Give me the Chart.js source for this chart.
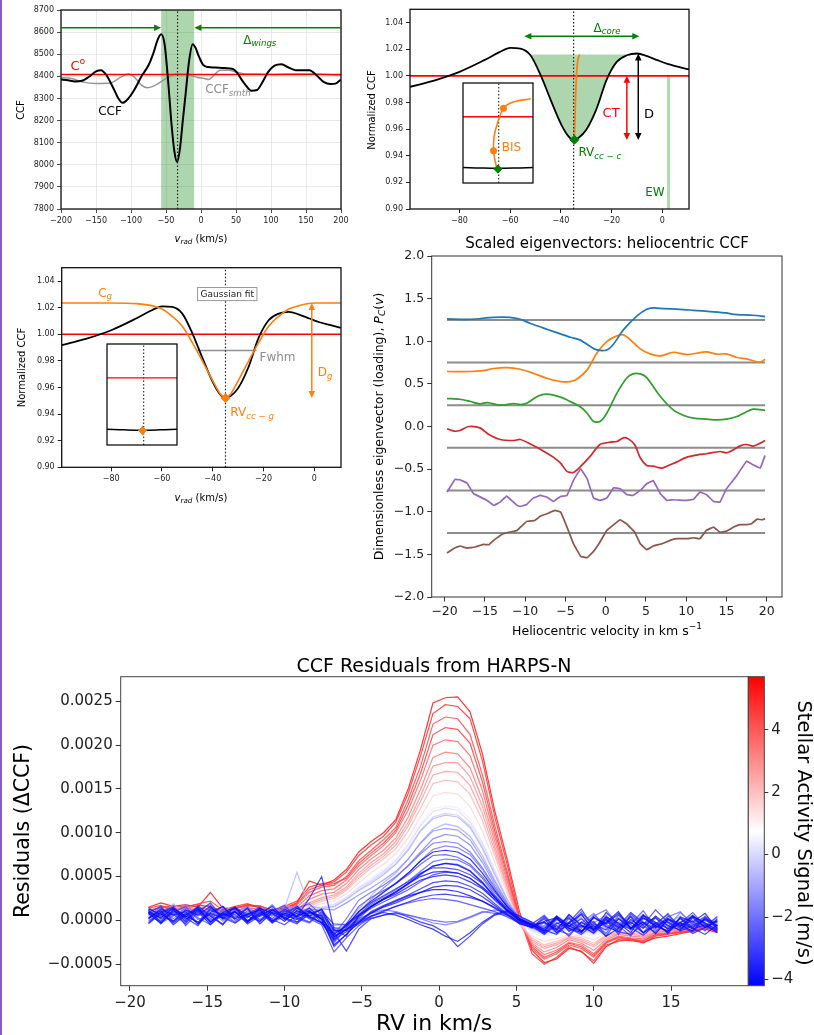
<!DOCTYPE html>
<html><head><meta charset="utf-8">
<script src="https://cdn.jsdelivr.net/npm/chart.js@4.4.1/dist/chart.umd.min.js"></script>
<style>
html,body{margin:0;padding:0;background:#fff;}
body{width:814px;height:1035px;position:relative;overflow:hidden;}
canvas{position:absolute;}
#pl{position:absolute;left:0;top:0;width:2px;height:1035px;background:#8e5bc4;}
</style></head><body>
<div id="pl"></div>
<script>
// ---------------- DATA ----------------
// Panel 1: raw CCF
const P1_XTICKS=[-200,-150,-100,-50,0,50,100,150,200];
const P1_YTICKS=[7800,7900,8000,8100,8200,8300,8400,8500,8600,8700];
const CCF_V=[-200,-190,-180,-170,-160,-150,-143,-135,-125,-118,-112,-105,-95,-85,-75,-68,-62,-57,-52,-47,-42,-38,-34,-30,-26,-22,-17,-12,-8,-3,3,10,20,30,40,46,52,58,65,72,80,88,96,105,115,125,135,145,155,165,175,185,192,200];
const CCF_Y=[8386,8382,8377,8380,8398,8422,8428,8405,8345,8300,8280,8295,8340,8400,8450,8505,8565,8590,8545,8380,8180,8060,8012,8075,8200,8320,8470,8545,8530,8490,8452,8442,8440,8438,8436,8433,8415,8385,8355,8335,8338,8375,8420,8448,8455,8440,8428,8428,8428,8405,8375,8365,8367,8386];
const SMTH_V=[-200,-185,-170,-150,-130,-115,-104,-95,-85,-77,-65,-50,-35,-20,-5,5,11,20,27,40,50,60,80,100,130,160,200];
const SMTH_Y=[8395,8390,8375,8368,8370,8395,8410,8395,8360,8348,8360,8390,8410,8408,8395,8390,8386,8410,8428,8428,8420,8412,8410,8408,8410,8410,8405];
const C0_LEVEL=8408, RV1=-33.5, WINGS=[-57,-9.5], WING_ARROW_Y=8620;

// Panels 2 & 3: normalized CCF
const P23_XTICKS=[-80,-60,-40,-20,0];
const P23_YTICKS=[0.90,0.92,0.94,0.96,0.98,1.00,1.02,1.04];
const NCCF_V=[-99.5,-90,-80,-70,-64,-60,-56,-52,-48,-44,-40,-37,-35,-33,-30,-26,-22,-18,-14,-10,-6,-2,2,6,10.5];
const NCCF_Y=[0.9918,0.9965,1.003,1.012,1.018,1.021,1.0205,1.0155,1.0005,0.9818,0.964,0.9545,0.9518,0.9535,0.9595,0.975,0.997,1.0105,1.0155,1.0168,1.0148,1.0118,1.009,1.007,1.0048];
const CORE_LEVEL=1.016, CORE_RANGE=[-52,-10], RV2=-35;
const BIS_V=[-34.7,-34.5,-34.3,-34.0,-33.7,-33.3,-32.6];
const BIS_Y=[0.952,0.965,0.98,0.995,1.005,1.012,1.016];
const EW_V=[1.8,3.1], EW_TOP=1.0;
const GAUSS_V=[-99.5,-80,-70,-64,-60,-56,-52,-48,-44,-40,-37,-35,-33,-30,-26,-22,-18,-14,-10,-6,0,10.5];
const GAUSS_Y=[1.0235,1.0235,1.023,1.0215,1.019,1.0135,1.006,0.9935,0.9795,0.965,0.955,0.952,0.955,0.965,0.9795,0.9935,1.006,1.0135,1.019,1.0215,1.0235,1.0235];
const FWHM_V=[-46.3,-22.8], FWHM_LEVEL=0.9878;
// insets (unitless box coordinates 0..1)
const IN2_BIS_X=[0.489,0.462,0.436,0.444,0.489,0.578,0.667,0.756,0.969];
const IN2_BIS_Y=[0.132,0.211,0.322,0.464,0.590,0.748,0.795,0.817,0.842];
const IN_BLACK_X=[0,0.25,0.5,0.75,1];
const IN_BLACK_Y=[0.156,0.150,0.147,0.150,0.156];

// Panel 4: scaled eigenvectors
const P4_XTICKS=[-20,-15,-10,-5,0,5,10,15,20];
const P4_YTICKS=[-2,-1.5,-1,-0.5,0,0.5,1,1.5,2];
const EV_OFFSETS=[1.25,0.75,0.25,-0.25,-0.75,-1.25];
const EV_BLUE_X=[-19.7,-16.8,-13.9,-11.9,-10.6,-9.4,-7.3,-5.6,-4.4,-3.2,-1.9,-1.1,0.14,0.97,2.2,3.9,5.1,5.9,7.2,9.2,10.9,13.0,15.0,15.9,18.3,19.8];
const EV_BLUE_Y=[1.262,1.258,1.281,1.281,1.258,1.211,1.141,1.086,1.047,1.016,0.938,0.898,0.898,0.965,1.133,1.297,1.375,1.391,1.383,1.375,1.363,1.348,1.332,1.316,1.305,1.289];
const EV_ORANGE_X=[-19.7,-16.8,-15.2,-13.9,-12.3,-10.6,-9.0,-7.3,-5.6,-4.4,-3.6,-2.3,-1.1,0.14,1.4,2.2,3.0,4.3,5.5,6.8,8.4,10.1,12.5,13.8,15.0,16.3,17.5,18.8,19.4,19.8];
const EV_ORANGE_Y=[0.645,0.645,0.656,0.680,0.691,0.672,0.625,0.566,0.527,0.527,0.555,0.664,0.859,0.996,1.063,1.074,1.023,0.910,0.852,0.828,0.871,0.844,0.875,0.848,0.852,0.809,0.793,0.758,0.762,0.789];
const EV_GREEN_X=[-19.7,-18.1,-16.8,-15.6,-14.7,-13.1,-11.4,-10.6,-9.8,-8.5,-7.3,-5.6,-4.4,-3.2,-2.3,-1.5,-0.7,0.14,1.4,2.6,3.4,4.3,5.1,6.8,8.4,9.7,10.9,12.5,13.8,15.0,16.3,18.3,19.8];
const EV_GREEN_Y=[0.328,0.320,0.293,0.266,0.281,0.250,0.270,0.258,0.273,0.352,0.379,0.344,0.293,0.234,0.156,0.059,0.059,0.156,0.391,0.566,0.617,0.617,0.574,0.352,0.195,0.129,0.098,0.086,0.078,0.086,0.117,0.203,0.188];
const EV_RED_X=[-19.7,-18.8,-18.1,-17.0,-15.6,-14.5,-13.1,-11.4,-10.6,-9.4,-7.7,-6.5,-5.6,-4.8,-4.0,-3.2,-1.9,-0.7,0.6,1.4,2.2,2.8,3.6,4.3,5.1,5.9,7.0,8.0,8.8,10.1,11.7,12.5,14.2,15.0,15.9,16.7,17.5,18.3,19.2,19.8];
const EV_RED_Y=[-0.027,-0.055,-0.047,0.0,-0.016,-0.094,-0.152,-0.164,-0.152,-0.203,-0.289,-0.359,-0.430,-0.527,-0.539,-0.477,-0.348,-0.211,-0.184,-0.176,-0.133,-0.145,-0.211,-0.367,-0.457,-0.465,-0.488,-0.449,-0.418,-0.359,-0.328,-0.320,-0.293,-0.309,-0.273,-0.227,-0.211,-0.230,-0.195,-0.164];
const EV_PURPLE_X=[-19.7,-18.7,-18.1,-17.2,-16.4,-14.7,-13.9,-13.1,-12.3,-11.0,-10.6,-9.8,-9.0,-8.1,-7.3,-6.5,-5.6,-4.8,-4.0,-3.1,-2.3,-1.5,-0.7,0.14,1.0,1.8,2.6,3.4,4.3,5.1,5.9,6.8,7.6,8.4,10.1,10.9,11.7,12.5,13.4,14.2,15.0,16.3,17.5,18.3,19.2,19.8];
const EV_PURPLE_Y=[-0.770,-0.621,-0.625,-0.664,-0.789,-0.867,-0.926,-0.887,-0.816,-0.926,-0.938,-0.914,-0.840,-0.809,-0.828,-0.879,-0.820,-0.809,-0.633,-0.496,-0.613,-0.840,-0.867,-0.840,-0.719,-0.730,-0.797,-0.809,-0.750,-0.672,-0.633,-0.789,-0.867,-0.859,-0.867,-0.855,-0.770,-0.797,-0.879,-0.887,-0.730,-0.574,-0.406,-0.449,-0.488,-0.340];
const EV_BROWN_X=[-19.7,-18.7,-18.1,-17.2,-16.2,-15.2,-14.5,-13.9,-12.9,-11.9,-11.0,-9.8,-8.8,-8.1,-7.3,-6.3,-5.6,-4.8,-4.0,-3.1,-2.3,-1.5,-0.7,0.14,1.4,1.8,2.6,3.6,4.3,5.1,5.9,7.0,8.0,8.8,10.1,10.9,11.7,12.5,13.4,14.2,15.0,15.9,16.7,17.5,18.1,18.8,19.4,19.8];
const EV_BROWN_Y=[-1.484,-1.422,-1.402,-1.426,-1.414,-1.383,-1.387,-1.336,-1.266,-1.238,-1.219,-1.113,-1.102,-1.051,-1.023,-0.984,-1.004,-1.180,-1.375,-1.523,-1.539,-1.465,-1.355,-1.219,-1.121,-1.094,-1.141,-1.238,-1.375,-1.445,-1.402,-1.375,-1.336,-1.316,-1.316,-1.305,-1.316,-1.219,-1.180,-1.242,-1.227,-1.180,-1.152,-1.152,-1.141,-1.086,-1.094,-1.082];

// Bottom: CCF residuals (values in units of 1e-4)
const RES_UNIT=1e-4;
const RES_XTICKS=[-20,-15,-10,-5,0,5,10,15];
const RES_YTICKS=[-0.0005,0,0.0005,0.001,0.0015,0.002,0.0025];
const CBAR_TICKS=[-4,-2,0,2,4];
const RV_GRID=[-18.8,-18.0,-17.2,-16.4,-15.6,-14.8,-14.0,-13.2,-12.4,-11.6,-10.8,-10.0,-9.2,-8.4,-7.6,-6.8,-6.0,-5.2,-4.4,-3.6,-2.8,-2.0,-1.2,-0.4,0.4,1.2,2.0,2.8,3.6,4.4,5.2,6.0,6.8,7.6,8.4,9.2,10.0,10.8,11.6,12.4,13.2,14.0,14.8,15.6,16.4,17.2,18.0];
const ACTIVITY=[5.6,5.0,4.5,4.0,3.5,3.0,2.3,1.6,0.8,0.0,-0.8,-1.5,-2.2,-2.8,-3.3,-3.7,-4.0,-3.0,-3.6,-2.5,-4.1,-3.9,-1.0,-1.8,-2.0,-2.4,-2.6,-3.0,-3.4,-3.8,-4.1,-3.5,-2.0,-3.9,0.4,2.8,4.8,-0.3];
const RES_01=[1.5,2.0,1.6,1.8,1.5,3.2,1.4,1.3,1.8,1.6,1.2,1.4,2.0,4.5,4.0,4.6,5.8,7.8,9.0,10.0,11.5,15.0,19.5,24.8,25.4,25.5,23.8,19.0,12.5,7.0,1.0,-3.4,-4.8,-4.4,-3.2,-3.5,-4.9,-3.0,-2.2,-2.3,-2.5,-2.0,-1.8,-1.5,-1.2,-1.0,-1.4];
const RES_02=[1.2,1.4,1.7,1.5,1.9,2.2,1.2,1.6,1.9,1.4,1.0,1.6,2.2,3.8,4.2,4.4,5.5,7.4,8.6,9.6,11.2,14.5,18.8,23.6,24.6,24.4,23.0,18.2,11.8,6.4,0.4,-3.8,-5.0,-4.2,-3.0,-3.6,-4.6,-2.8,-2.4,-2.1,-2.6,-1.8,-1.6,-1.3,-1.3,-0.9,-1.2];
const RES_03=[0.9,1.6,1.4,1.3,1.7,1.6,1.0,1.4,1.6,1.7,1.1,1.2,1.8,3.2,3.8,4.0,5.0,6.8,8.0,9.2,10.6,13.8,17.6,22.4,23.2,23.0,21.2,16.6,10.8,5.6,0.2,-3.2,-4.4,-3.8,-2.8,-3.2,-4.2,-2.6,-2.0,-2.2,-2.4,-1.7,-1.5,-1.4,-1.1,-0.8,-1.0];
const RES_04=[1.0,1.2,1.5,1.1,1.4,1.3,0.9,1.1,1.4,1.3,0.8,1.0,1.5,2.8,3.4,3.6,4.6,6.2,7.4,8.5,10.0,12.6,16.0,20.0,20.6,20.4,18.8,14.8,9.6,4.8,0.0,-2.8,-3.9,-3.4,-2.5,-2.8,-3.8,-2.4,-1.8,-2.0,-2.1,-1.5,-1.4,-1.2,-1.0,-0.8,-1.1];
const RES_05=[0.8,1.3,1.1,1.4,1.2,1.1,0.7,1.2,1.2,1.0,0.6,0.9,1.2,2.4,3.0,3.2,4.2,5.8,7.0,8.0,9.4,11.8,15.0,18.6,19.2,19.0,17.4,13.8,9.0,4.4,-0.2,-2.6,-3.6,-3.1,-2.2,-2.6,-3.4,-2.2,-1.6,-1.8,-1.9,-1.4,-1.2,-1.1,-0.9,-0.6,-1.0];
const RES_06=[0.6,1.0,1.2,0.9,1.1,1.0,0.6,0.9,1.1,0.9,0.5,0.8,1.0,2.0,2.6,2.9,3.8,5.4,6.6,7.6,9.0,11.2,14.2,17.6,18.0,18.0,16.4,13.0,8.4,4.0,-0.4,-2.4,-3.2,-2.8,-2.0,-2.4,-3.0,-2.0,-1.5,-1.6,-1.8,-1.3,-1.1,-1.0,-0.8,-0.6,-0.9];
const RES_07=[0.7,0.9,0.8,1.0,0.9,0.8,0.5,0.8,0.9,0.8,0.5,0.7,0.9,1.6,2.2,2.5,3.4,4.8,6.0,7.0,8.2,10.2,12.8,15.6,16.0,15.8,14.4,11.4,7.4,3.4,-0.4,-2.0,-2.8,-2.4,-1.8,-2.0,-2.6,-1.7,-1.3,-1.4,-1.5,-1.1,-1.0,-0.9,-0.7,-0.5,-0.8];
const RES_08=[0.5,0.8,0.7,0.9,0.8,0.7,0.4,0.7,0.8,0.7,0.6,0.6,0.8,1.4,1.9,2.2,3.0,4.3,5.4,6.4,7.6,9.4,11.8,14.2,14.6,14.4,13.0,10.2,6.6,3.0,-0.4,-1.8,-2.4,-2.1,-1.6,-1.8,-2.2,-1.5,-1.2,-1.2,-1.3,-1.0,-0.9,-0.8,-0.6,-0.5,-0.7];
const RES_09=[0.6,0.7,0.8,0.7,0.9,0.6,0.5,0.7,0.6,0.8,0.5,0.6,0.9,1.2,1.7,2.0,2.8,4.0,5.0,6.0,7.2,9.0,11.2,13.2,13.6,13.4,12.0,9.4,6.0,2.6,-0.2,-1.6,-2.0,-1.8,-1.4,-1.5,-1.9,-1.3,-1.0,-1.1,-1.2,-0.9,-0.8,-0.7,-0.6,-0.4,-0.6];
const RES_10=[0.7,0.6,0.9,0.8,0.6,0.8,0.6,0.5,0.7,0.9,0.6,0.8,1.1,1.3,1.5,1.8,2.6,3.7,4.6,5.6,6.8,8.6,10.8,12.4,12.8,12.6,11.2,8.8,5.6,2.4,0.0,-1.2,-1.6,-1.4,-1.0,-1.2,-1.6,-1.0,-0.7,-0.8,-0.9,-0.6,-0.5,-0.5,-0.3,-0.2,-0.4];
const RES_11=[0.8,0.5,1.0,0.7,0.8,0.6,0.9,0.6,0.8,1.0,0.7,1.4,5.5,1.6,1.4,1.6,2.4,3.4,4.2,5.2,6.4,8.0,10.2,11.6,12.0,11.8,10.6,8.2,5.2,2.4,0.2,-0.8,-1.2,-1.0,-0.8,-1.0,-1.2,-0.7,-0.5,-0.6,-0.8,-0.5,-0.4,-0.3,-0.2,-0.1,-0.3];
const RES_12=[0.9,0.7,0.6,1.1,0.8,0.5,0.7,0.9,0.6,0.7,0.9,1.0,1.2,1.1,1.3,1.2,2.0,2.9,3.7,4.6,5.6,7.0,8.8,10.2,10.5,10.3,9.2,7.0,4.4,2.0,0.2,-0.6,-0.8,-0.6,-0.5,-0.7,-0.9,-0.4,-0.2,-0.3,-0.5,-0.3,-0.2,-0.1,0.0,0.1,-0.2];
const RES_13=[0.6,1.5,0.2,1.2,-0.3,1.6,0.4,-0.2,1.1,0.5,1.8,0.2,0.9,1.4,0.3,-1.6,0.2,2.3,3.2,4.0,5.0,6.2,7.6,8.8,9.0,8.8,7.8,6.0,3.8,1.8,0.4,-0.4,0.6,-0.9,0.3,-1.4,0.5,1.2,-0.6,0.9,-0.2,-1.1,0.4,1.0,-0.5,0.3,-0.8];
const RES_14=[1.2,-0.2,0.9,1.6,0.1,0.7,-0.5,1.3,0.4,1.0,-0.1,0.8,1.5,0.2,0.6,-2.0,-0.4,1.6,2.6,3.4,4.2,5.2,6.4,7.4,7.5,7.2,6.4,5.0,3.2,1.6,0.2,-0.6,-1.2,0.2,-0.7,0.8,-0.3,-1.5,0.6,-0.4,1.1,-0.8,0.2,-0.3,0.9,-0.6,0.4];
const RES_15=[-0.4,0.8,1.4,-0.6,0.9,2.0,0.3,-0.3,0.7,1.5,0.1,-0.5,0.6,1.1,-0.2,-2.4,-0.8,1.0,2.0,2.8,3.6,4.4,5.4,6.0,6.0,5.8,5.2,4.2,2.8,1.4,0.0,-0.8,0.4,-1.0,-0.2,1.3,-0.9,0.1,-1.6,0.7,-0.5,1.2,-0.2,-0.9,0.5,-0.4,-1.3];
const RES_16=[0.9,-0.1,1.2,0.3,-0.6,1.4,0.5,1.0,-0.3,0.8,0.2,1.3,0.4,2.5,5.0,-1.0,-1.8,0.6,1.6,2.4,3.0,3.8,4.6,5.0,5.2,5.0,4.4,3.6,2.4,1.2,0.0,-0.4,-1.3,0.5,-0.7,0.2,-1.2,0.9,-0.4,-1.0,0.6,-0.2,-1.5,0.3,-0.8,0.1,-0.6];
const RES_17=[0.3,1.1,-0.5,0.6,1.5,-0.2,0.8,0.2,1.4,-0.4,0.9,0.3,-0.2,1.0,0.1,-2.8,-1.6,-0.2,0.8,1.6,2.2,2.8,3.2,3.5,3.5,3.3,2.8,2.2,1.4,0.6,-0.4,-0.8,0.2,-1.4,-0.3,0.7,-1.1,-0.2,1.0,-0.9,0.3,-0.6,-1.3,0.4,-0.2,0.8,-1.0];
const RES_18=[1.1,0.2,0.7,-0.4,1.3,0.5,1.6,0.0,0.6,1.2,-0.3,0.5,1.0,0.2,-0.5,-3.6,-2.0,-0.6,0.4,1.0,1.6,2.0,2.3,2.5,2.4,2.2,1.8,1.4,1.0,0.4,-0.3,-0.6,-0.2,-1.0,0.6,-0.5,-1.4,0.3,-0.8,0.9,-0.3,-0.9,0.5,-0.6,-0.1,-1.2,0.2];
const RES_19=[0.2,0.9,-0.3,0.7,1.2,0.0,0.6,1.0,-0.4,0.5,1.3,0.1,0.8,0.4,-0.2,-1.4,-3.5,-1.0,0.2,0.6,0.9,0.4,-0.2,-0.6,-1.4,-3.0,-1.8,-0.4,0.6,1.0,0.2,-0.5,-1.4,-0.3,-0.9,-1.6,-0.4,-1.1,0.2,-0.8,-1.7,-0.5,-0.2,-1.2,-0.6,0.1,-0.9];
const RES_20=[0.8,-0.3,0.5,1.4,0.3,-0.5,0.9,0.4,1.5,0.0,0.7,1.1,-0.2,0.6,0.3,-1.8,-1.0,-0.3,0.2,0.6,0.8,0.6,0.3,0.0,-0.2,-0.1,0.4,1.0,0.8,0.6,0.2,-0.3,-0.8,0.5,-0.4,1.0,-0.7,-0.2,0.6,-1.1,0.3,-0.5,0.8,-0.9,-0.3,0.4,-0.6];
const RES_21=[1.0,0.3,1.4,0.5,-0.2,0.9,1.6,0.2,0.7,1.2,-0.1,0.8,0.4,1.1,0.2,-1.6,-0.6,1.0,2.2,3.2,4.2,5.4,6.8,7.8,8.0,7.8,7.0,5.4,3.4,1.6,0.2,-0.5,-1.0,0.4,-0.6,-1.3,0.3,-0.4,0.8,-0.9,-0.2,-1.5,0.1,-0.7,0.5,-0.3,-1.1];
const RES_22=[0.2,1.3,0.6,1.0,-0.4,0.8,0.3,1.5,0.5,-0.1,1.2,0.6,0.1,0.9,0.5,-2.2,-0.4,0.6,1.6,2.4,3.2,4.2,5.0,5.5,5.6,5.4,4.8,3.8,2.6,1.2,0.0,-0.6,-0.2,-1.1,0.7,-0.6,-1.0,0.4,-0.3,-1.4,0.6,-0.8,0.2,-0.5,-1.2,0.3,-0.7];
const RES_23=[1.4,0.5,1.9,0.8,1.3,0.2,1.6,1.1,0.4,1.5,0.9,1.8,1.2,0.6,1.3,-0.6,-0.4,1.3,2.8,4.3,5.4,7.0,8.9,10.4,11.0,10.7,9.6,7.4,4.6,2.0,0.3,-0.9,-1.3,-0.2,-1.0,0.4,-1.4,-0.5,0.3,-0.9,-0.1,-1.2,-0.4,0.5,-0.7,0.1,-0.6];
const RES_24=[0.3,1.4,0.7,1.8,0.5,1.2,-0.1,1.0,1.6,0.4,1.3,0.8,0.2,1.4,0.9,-1.0,-0.6,0.9,2.4,3.7,4.9,6.3,7.8,9.3,9.8,9.6,8.6,6.6,4.1,1.8,0.2,-0.7,-0.2,-1.2,0.5,-0.8,-0.3,0.6,-1.0,-0.4,0.7,-0.9,0.2,-0.6,0.4,-0.3,-1.0];
const RES_25=[1.2,0.1,0.9,0.4,1.6,0.2,1.1,-0.3,0.8,1.4,0.0,1.0,1.7,0.3,0.6,-2.6,-0.9,0.6,2.0,3.2,4.3,5.4,6.8,8.1,8.5,8.3,7.5,5.8,3.6,1.5,0.0,-0.8,-0.6,0.4,-1.3,-0.3,0.8,-0.9,0.1,-0.5,-1.4,0.3,-0.7,0.9,-0.4,-1.1,0.2];
const RES_26=[-0.2,1.0,1.6,0.3,0.9,-0.4,1.3,0.6,-0.1,1.1,0.5,1.5,0.2,-0.3,0.8,-1.4,-0.7,0.7,1.8,2.7,3.5,4.5,5.6,6.7,7.0,6.9,6.2,4.8,2.9,1.3,0.1,-0.6,-1.5,0.1,-0.8,0.7,-1.2,-0.2,-0.9,0.5,-0.6,0.3,-1.0,-0.3,0.6,-0.8,-0.1];
const RES_27=[1.5,0.4,0.9,-0.3,1.2,1.8,0.1,0.7,1.3,-0.2,1.0,0.4,1.4,1.9,0.6,-0.8,-1.2,0.2,1.5,2.4,3.2,4.1,5.2,6.2,6.5,6.4,5.7,4.4,2.7,1.1,-0.1,-0.9,-0.3,-1.4,0.2,-0.9,0.6,-0.5,-1.1,0.4,-0.7,-1.3,0.1,-0.4,-0.9,0.5,-0.6];
const RES_28=[0.0,0.6,1.3,-0.2,1.5,0.5,-0.4,1.2,0.8,0.1,1.1,1.7,0.3,-0.2,1.0,-0.4,-0.5,0.5,1.4,2.1,2.8,3.5,4.4,5.2,5.5,5.4,4.8,3.7,2.3,1.0,-0.1,-0.4,0.5,-1.1,-1.6,-0.2,-0.9,0.4,-0.6,-1.8,0.2,-0.4,0.7,-0.8,-1.3,0.1,-0.3];
const RES_29=[0.9,1.6,-0.1,0.8,-0.4,1.2,0.6,1.5,0.0,0.9,-0.3,1.1,0.5,1.4,0.1,-3.0,-1.6,-0.2,1.0,1.7,2.3,2.9,3.6,4.3,4.5,4.4,3.9,3.1,1.9,0.8,-0.2,-0.7,-1.6,-0.4,0.3,-1.2,-0.1,-1.8,0.2,-0.9,0.5,-0.3,-1.4,-0.2,0.4,-0.7,-1.2];
const RES_30=[-0.3,0.9,1.5,0.1,1.1,-0.5,0.7,1.4,-0.1,0.8,1.6,0.2,-0.4,0.8,1.2,-1.9,-1.0,0.0,0.9,1.5,2.0,2.6,3.2,3.8,4.0,3.9,3.5,2.7,1.7,0.7,-0.3,-0.8,-0.1,0.3,-1.2,-0.6,-1.5,0.1,-0.8,0.4,-1.4,-0.3,-0.9,0.2,-1.0,-0.5,-1.4];
const RES_31=[1.3,0.7,-0.1,1.2,0.6,1.6,0.2,1.0,-0.2,1.4,0.8,-0.1,1.1,0.5,1.3,-1.2,-1.1,0.4,1.6,2.5,3.3,4.2,5.3,6.2,6.5,6.3,5.6,4.3,2.6,1.1,0.0,-0.5,-1.2,0.2,-0.9,-1.4,0.4,-0.7,-1.3,0.1,-0.9,0.5,-0.6,-1.1,0.3,-0.8,0.0];
const RES_32=[0.9,-0.4,1.2,-0.1,1.7,0.5,-0.5,1.0,0.3,1.4,-0.2,0.7,1.6,0.4,-0.3,-2.2,-1.3,-0.4,0.5,1.1,1.6,2.1,2.6,2.9,3.0,2.8,2.6,2.2,1.5,0.7,-0.2,-0.6,-1.5,-0.6,-1.8,-0.2,-1.1,0.2,-1.3,-1.6,-0.4,0.3,-1.0,-0.3,-1.5,-0.8,-0.1];
const RES_33=[0.6,1.2,-0.2,0.9,1.4,0.2,1.0,-0.3,0.7,1.3,0.0,1.1,0.5,-0.2,0.8,-1.2,-0.8,0.2,0.8,1.2,1.0,0.6,0.2,-0.3,-0.5,-0.2,0.3,0.9,1.2,0.9,0.4,-0.3,-0.9,0.3,-1.0,-0.2,-1.3,0.4,-0.7,-0.1,-1.4,-0.5,0.2,-1.0,-0.4,-0.8,0.5];
const RES_34=[0.8,-0.3,1.1,0.4,1.3,-0.2,0.9,1.5,-0.1,0.6,1.2,0.2,1.4,0.5,-0.3,-1.8,-1.1,-0.2,0.5,0.9,0.6,0.1,-0.5,-1.0,-1.8,-2.4,-1.4,-0.2,0.7,1.1,0.5,-0.2,-1.1,-1.6,-0.3,-1.2,-0.6,-1.8,-0.9,-0.2,-1.4,-0.6,-1.2,-0.3,-0.9,-1.6,-0.5];
const RES_35=[1.0,1.3,0.9,1.2,0.8,1.1,0.7,0.9,1.2,0.8,0.7,1.0,1.1,1.4,1.6,1.9,2.7,3.8,4.8,5.8,7.0,8.8,11.0,12.8,13.0,12.9,11.6,9.0,5.8,2.5,-0.1,-1.4,-1.8,-1.6,-1.2,-1.4,-1.8,-1.2,-0.9,-1.0,-1.1,-0.8,-0.7,-0.6,-0.5,-0.3,-0.5];
const RES_36=[1.2,1.0,1.4,1.1,0.9,1.3,0.8,1.0,1.3,1.1,0.7,0.9,1.3,1.8,2.4,2.7,3.6,5.1,6.3,7.3,8.6,10.8,13.6,16.6,17.0,16.9,15.4,12.2,7.9,3.8,-0.3,-2.2,-3.0,-2.6,-1.9,-2.2,-2.8,-1.8,-1.4,-1.5,-1.6,-1.2,-1.0,-0.9,-0.8,-0.6,-0.8];
const RES_37=[1.4,1.7,1.2,1.6,1.8,1.5,1.1,1.5,1.7,1.5,1.0,1.3,1.9,3.5,4.0,4.2,4.8,6.5,7.7,8.8,10.3,13.2,16.8,21.2,22.0,21.8,20.2,15.8,10.2,5.2,0.1,-3.0,-4.2,-3.6,-2.6,-3.0,-4.0,-2.5,-1.9,-2.1,-2.3,-1.6,-1.5,-1.3,-1.1,-0.9,-1.1];
const RES_38=[0.6,0.9,0.7,1.1,0.8,0.9,0.5,0.7,1.0,0.6,0.8,0.7,1.0,1.2,1.3,1.5,2.4,3.5,4.4,5.4,6.5,8.2,10.3,11.8,12.2,12.0,10.8,8.4,5.3,2.3,0.1,-1.0,-1.4,-1.2,-0.9,-1.1,-1.4,-0.9,-0.6,-0.7,-0.8,-0.5,-0.4,-0.4,-0.2,-0.1,-0.3];
const RESIDUALS=[RES_01,RES_02,RES_03,RES_04,RES_05,RES_06,RES_07,RES_08,RES_09,RES_10,RES_11,RES_12,RES_13,RES_14,RES_15,RES_16,RES_17,RES_18,RES_19,RES_20,RES_21,RES_22,RES_23,RES_24,RES_25,RES_26,RES_27,RES_28,RES_29,RES_30,RES_31,RES_32,RES_33,RES_34,RES_35,RES_36,RES_37,RES_38];
const CBAR_RANGE=[-4.2,5.7];

// ---------------- HELPERS ----------------
const FAM='"DejaVu Sans", "Liberation Sans", sans-serif';
Chart.defaults.font.family=FAM;
Chart.defaults.color='#222';
Chart.defaults.animation=false;
Chart.defaults.responsive=false;
Chart.defaults.devicePixelRatio=1;
Chart.defaults.plugins.legend.display=false;
Chart.defaults.plugins.tooltip.enabled=false;
Chart.defaults.elements.point.radius=0;

const zip=(xs,ys)=>xs.slice(0,Math.min(xs.length,ys.length)).map((x,i)=>({x,y:ys[i]}));
const mns=v=>(v<0?'\u2212':'')+Math.abs(v);
const fix=d=>v=>{const s=Math.abs(v).toFixed(d);return (v<-1e-12?'\u2212':'')+s;};

function drawRich(ctx,segs,x,y,o){
  const size=o.size||10, col=o.color||'#000';
  ctx.save(); ctx.translate(x,y); if(o.rot) ctx.rotate(o.rot);
  let w=0;
  const parts=segs.map(s=>{const sz=(s.sub||s.sup)?size*0.72:size;const f=(s.it?'italic ':'')+sz+'px '+FAM;ctx.font=f;const mw=ctx.measureText(s.t).width;w+=mw;return {s,f,mw};});
  let cx=o.align==='left'?0:(o.align==='right'?-w:-w/2);
  ctx.textBaseline='alphabetic';
  const base=size*0.36;
  for(const p of parts){ctx.font=p.f;ctx.fillStyle=p.s.color||col;let dy=base;if(p.s.sub)dy+=size*0.22;if(p.s.sup)dy-=size*0.42;ctx.fillText(p.s.t,cx,dy);cx+=p.mw;}
  ctx.restore();
  return w;
}
function head(ctx,x,y,a,hl,hw){ctx.beginPath();ctx.moveTo(x,y);ctx.lineTo(x-hl*Math.cos(a)+hw*Math.sin(a),y-hl*Math.sin(a)-hw*Math.cos(a));ctx.lineTo(x-hl*Math.cos(a)-hw*Math.sin(a),y-hl*Math.sin(a)+hw*Math.cos(a));ctx.closePath();ctx.fill();}
function drawArrow(ctx,x1,y1,x2,y2,col,lw,both){
  const a=Math.atan2(y2-y1,x2-x1),hl=7,hw=3.3;
  ctx.save();ctx.strokeStyle=col;ctx.fillStyle=col;ctx.lineWidth=lw;
  let sx=x1,sy=y1,ex=x2-Math.cos(a)*hl*0.7,ey=y2-Math.sin(a)*hl*0.7;
  if(both){sx+=Math.cos(a)*hl*0.7;sy+=Math.sin(a)*hl*0.7;}
  ctx.beginPath();ctx.moveTo(sx,sy);ctx.lineTo(ex,ey);ctx.stroke();
  head(ctx,x2,y2,a,hl,hw); if(both) head(ctx,x1,y1,a+Math.PI,hl,hw);
  ctx.restore();
}
const annot={id:'annot',afterDraw(chart,args,opts){
  const items=opts.items||[];const ctx=chart.ctx;const xs=chart.scales.x,ys=chart.scales.y;
  const PX=v=>xs.getPixelForValue(v),PY=v=>ys.getPixelForValue(v);
  for(const it of items){
    if(it.type==='text'){
      const px=it.px!==undefined?it.px:PX(it.x),py=it.py!==undefined?it.py:PY(it.y);
      drawRich(ctx,it.segs,px,py,it);
    }else if(it.type==='arrow'){
      drawArrow(ctx,PX(it.x1),PY(it.y1),PX(it.x2),PY(it.y2),it.color,it.lw||1.5,it.both);
    }else if(it.type==='box'){
      const px=PX(it.x),py=PY(it.y);ctx.save();ctx.font=(it.size||9)+'px '+FAM;const w=ctx.measureText(it.text).width;
      const bw=w+6,bh=it.size*1.45;ctx.fillStyle='#fff';ctx.strokeStyle='#9a9a9a';ctx.lineWidth=1;
      ctx.fillRect(px-bw/2,py-bh/2,bw,bh);ctx.strokeRect(px-bw/2,py-bh/2,bw,bh);ctx.restore();
      drawRich(ctx,[{t:it.text}],px,py,{size:it.size,color:'#222'});
    }
  }
}};
const frame={id:'frame',afterDatasetsDraw(chart,args,o){
  if(!o||!o.color)return;const {left,top,right,bottom}=chart.chartArea;const c=chart.ctx;
  c.save();c.strokeStyle=o.color;c.lineWidth=o.width||1;c.strokeRect(left,top,right-left,bottom-top);c.restore();}};
Chart.register(annot,frame);
// colour-bar gradient (inline plugin, bwr colormap)
const cbgrad={id:'cbgrad',afterDatasetsDraw(chart){
  const {left,top,right,bottom}=chart.chartArea;const c=chart.ctx;
  const g=c.createLinearGradient(0,bottom,0,top);g.addColorStop(0,'rgb(0,0,255)');g.addColorStop(0.5,'rgb(255,255,255)');g.addColorStop(1,'rgb(255,0,0)');
  c.save();c.fillStyle=g;c.fillRect(left,top,right-left,bottom-top);
  c.strokeStyle='#444';c.lineWidth=1;c.strokeRect(left,top,right-left,bottom-top);c.restore();}};

function mk(box,plot,config,fitAxes){
  const c=document.createElement('canvas');c.width=box.w;c.height=box.h;
  c.style.left=box.l+'px';c.style.top=box.t+'px';c.style.width=box.w+'px';c.style.height=box.h+'px';
  document.body.appendChild(c);
  config.options.layout={padding:{top:plot.t-box.t,right:box.l+box.w-plot.r,left:fitAxes?0:plot.l-box.l,bottom:fitAxes?0:box.t+box.h-plot.b}};
  if(fitAxes){
    const yw=plot.l-box.l,xh=box.t+box.h-plot.b;
    config.options.scales.x.afterFit=s=>{s.height=xh;};
    config.options.scales.y.afterFit=s=>{s.width=yw;};
  }
  return new Chart(c.getContext('2d'),config);
}
function axis(min,max,ticks,fmt,size,extra){
  return Object.assign({type:'linear',min,max,
    afterBuildTicks:s=>{s.ticks=ticks.map(v=>({value:v}));},
    ticks:{autoSkip:false,maxRotation:0,font:{size},color:'#222',padding:3,callback:fmt},
    grid:{drawOnChartArea:false,drawTicks:true,tickLength:4,tickColor:'#222',tickWidth:1},
    border:{display:false}},extra||{});
}
const line=(data,color,w,extra)=>Object.assign({data,borderColor:color,borderWidth:w,fill:false,pointRadius:0,tension:0},extra||{});
const GREEN='#008000',ORANGE='#ff7f0e',RED='#ff0000';

// ---------------- PANEL 1 ----------------
mk({l:0,t:0,w:360,h:250},{l:61,t:10,r:341,b:209},{type:'line',data:{datasets:[
  line([{x:RV1,y:P1_YTICKS[0]},{x:RV1,y:P1_YTICKS[P1_YTICKS.length-1]}],'#222',1.2,{borderDash:[1.5,2],order:1}),
  line(zip(CCF_V,CCF_Y),'#000',2,{cubicInterpolationMode:'monotone',order:2}),
  line([{x:-200,y:C0_LEVEL},{x:200,y:C0_LEVEL}],RED,1.6,{order:3}),
  line(zip(SMTH_V,SMTH_Y),'#959595',1.5,{cubicInterpolationMode:'monotone',order:4}),
  line([{x:WINGS[0],y:P1_YTICKS[P1_YTICKS.length-1]},{x:WINGS[1],y:P1_YTICKS[P1_YTICKS.length-1]}],'rgba(0,0,0,0)',0,{fill:{value:P1_YTICKS[0]},backgroundColor:'rgba(30,140,30,0.36)',order:9})
]},options:{scales:{
  x:axis(-200,200,P1_XTICKS,v=>mns(v),8,{grid:{color:'#e3e3e3',lineWidth:0.8,drawTicks:true,tickLength:4,tickColor:'#222'}}),
  y:axis(7800,8700,P1_YTICKS,v=>String(v),8,{grid:{color:'#e3e3e3',lineWidth:0.8,drawTicks:true,tickLength:4,tickColor:'#222'}})},
  plugins:{frame:{color:'#111',width:1.3},annot:{items:[
    {type:'arrow',x1:-200,y1:WING_ARROW_Y,x2:WINGS[0],y2:WING_ARROW_Y,color:GREEN,lw:1.5},
    {type:'arrow',x1:200,y1:WING_ARROW_Y,x2:WINGS[1],y2:WING_ARROW_Y,color:GREEN,lw:1.5},
    {type:'text',segs:[{t:'C'},{t:'o',sup:true}],x:-176,y:8452,size:13,color:RED},
    {type:'text',segs:[{t:'\u0394'},{t:'wings',sub:true,it:true}],x:84,y:8568,size:12,color:GREEN},
    {type:'text',segs:[{t:'CCF'}],x:-130,y:8246,size:12,color:'#000'},
    {type:'text',segs:[{t:'CCF'},{t:'smth',sub:true,it:true}],x:6,y:8343,size:12,color:'#8c8c8c',align:'left'},
    {type:'text',segs:[{t:'v',it:true},{t:'rad',sub:true,it:true},{t:' (km/s)'}],px:201,py:238,size:10},
    {type:'text',segs:[{t:'CCF'}],px:20,py:110,size:10,rot:-Math.PI/2}
  ]}}}},true);

// ---------------- PANEL 2 ----------------
const coreSeg=zip(NCCF_V,NCCF_Y).filter(p=>p.x>=CORE_RANGE[0]&&p.x<=CORE_RANGE[1]);
mk({l:360,t:0,w:340,h:232},{l:410,t:9.3,r:689,b:209},{type:'line',data:{datasets:[
  line([{x:RV2,y:0.90},{x:RV2,y:1.05}],'#222',1.2,{borderDash:[1.5,2],order:1}),
  line(zip(BIS_V,BIS_Y),ORANGE,1.8,{cubicInterpolationMode:'monotone',order:2}),
  line([{x:BIS_V[0],y:BIS_Y[0]}],GREEN,1,{pointRadius:4.5,pointStyle:'rectRot',pointBackgroundColor:GREEN,pointBorderColor:GREEN,order:0}),
  line(zip(NCCF_V,NCCF_Y),'#000',1.8,{cubicInterpolationMode:'monotone',order:3}),
  line([{x:-99.5,y:1.0},{x:10.5,y:1.0}],RED,1.6,{order:4}),
  line(coreSeg,'rgba(0,0,0,0)',0,{fill:{value:CORE_LEVEL},backgroundColor:'rgba(30,140,30,0.36)',cubicInterpolationMode:'monotone',order:9}),
  line([{x:EW_V[0],y:EW_TOP},{x:EW_V[1],y:EW_TOP}],'rgba(0,0,0,0)',0,{fill:{value:0.90},backgroundColor:'rgba(30,150,30,0.35)',order:9})
]},options:{scales:{
  x:axis(-99.5,10.5,P23_XTICKS,v=>mns(v),8),
  y:axis(0.90,1.05,P23_YTICKS,fix(2),8)},
  plugins:{frame:{color:'#111',width:1.3},annot:{items:[
    {type:'arrow',x1:-54.4,y1:1.0298,x2:-9.1,y2:1.0298,color:GREEN,lw:1.5,both:true},
    {type:'text',segs:[{t:'\u0394'},{t:'core',sub:true,it:true}],x:-21.8,y:1.0365,size:12,color:GREEN},
    {type:'arrow',x1:-14,y1:1.0,x2:-14,y2:0.9518,color:RED,lw:1.5,both:true},
    {type:'text',segs:[{t:'CT'}],x:-20.2,y:0.9728,size:13,color:RED},
    {type:'arrow',x1:-9.5,y1:1.0168,x2:-9.5,y2:0.9518,color:'#000',lw:1.5,both:true},
    {type:'text',segs:[{t:'D'}],x:-5.3,y:0.972,size:13,color:'#000'},
    {type:'text',segs:[{t:'EW'}],x:-2.9,y:0.9128,size:12,color:GREEN},
    {type:'text',segs:[{t:'RV'},{t:'cc \u2212 c',sub:true,it:true}],x:-33.1,y:0.9428,size:12,color:GREEN,align:'left'},
    {type:'text',segs:[{t:'Normalized CCF'}],px:11.7,py:110,size:10,rot:-Math.PI/2}
  ]}}}},true);

// Panel 2 inset
mk({l:458,t:78,w:80,h:110},{l:460,t:80,r:535,b:185.7},{type:'line',data:{datasets:[
  line([{x:0.51,y:0},{x:0.51,y:1}],'#222',1.1,{borderDash:[1.5,2],order:3}),
  line(zip(IN_BLACK_X,IN_BLACK_Y),'#000',1.5,{tension:0.4,order:2}),
  line([{x:0,y:0.662},{x:1,y:0.662}],RED,1.4,{order:2}),
  line(zip(IN2_BIS_X,IN2_BIS_Y),ORANGE,1.6,{tension:0.4,order:1}),
  line([{x:IN2_BIS_X[2],y:IN2_BIS_Y[2]},{x:IN2_BIS_X[5],y:IN2_BIS_Y[5]}],ORANGE,0,{showLine:false,pointRadius:3.5,pointBackgroundColor:ORANGE,pointBorderColor:ORANGE,order:0}),
  line([{x:0.498,y:0.10},{x:0.498,y:0.18}],GREEN,1.5,{order:0}),
  line([{x:0.498,y:0.139}],GREEN,1,{pointRadius:4,pointStyle:'rectRot',pointBackgroundColor:GREEN,pointBorderColor:GREEN,order:0})
]},options:{scales:{x:{type:'linear',min:0,max:1,display:false},y:{type:'linear',min:0,max:1,display:false}},
  plugins:{frame:{color:'#111',width:1.3},annot:{items:[
    {type:'text',segs:[{t:'BIS'}],x:0.693,y:0.366,size:12,color:ORANGE}
  ]}}}},false);

// ---------------- PANEL 3 ----------------
mk({l:0,t:255,w:360,h:250},{l:61.7,t:267.7,r:341,b:467.3},{type:'line',data:{datasets:[
  line([{x:RV2,y:0.90},{x:RV2,y:1.05}],'#222',1.2,{borderDash:[1.5,2],order:1}),
  line([{x:RV2,y:0.949},{x:RV2,y:0.955}],ORANGE,1.6,{order:0}),
  line([{x:RV2,y:0.952}],ORANGE,1,{pointRadius:4.5,pointStyle:'rectRot',pointBackgroundColor:ORANGE,pointBorderColor:ORANGE,order:0}),
  line(zip(GAUSS_V,GAUSS_Y),ORANGE,1.6,{cubicInterpolationMode:'monotone',order:2}),
  line(zip(NCCF_V,NCCF_Y),'#000',1.8,{cubicInterpolationMode:'monotone',order:3}),
  line([{x:FWHM_V[0],y:FWHM_LEVEL},{x:FWHM_V[1],y:FWHM_LEVEL}],'#909090',1.6,{order:4}),
  line([{x:-99.5,y:1.0},{x:10.5,y:1.0}],RED,1.6,{order:5})
]},options:{scales:{
  x:axis(-99.5,10.5,P23_XTICKS,v=>mns(v),8),
  y:axis(0.90,1.05,P23_YTICKS,fix(2),8)},
  plugins:{frame:{color:'#111',width:1.3},annot:{items:[
    {type:'text',segs:[{t:'C'},{t:'g',sub:true,it:true}],x:-82.4,y:1.0315,size:12,color:ORANGE},
    {type:'box',text:'Gaussian fit',x:-34.3,y:1.0302,size:9},
    {type:'text',segs:[{t:'Fwhm'}],x:-14.5,y:0.9828,size:12,color:'#8c8c8c'},
    {type:'arrow',x1:-1,y1:1.0235,x2:-1,y2:0.952,color:ORANGE,lw:1.5,both:true},
    {type:'text',segs:[{t:'D'},{t:'g',sub:true,it:true}],x:4.2,y:0.9715,size:12,color:ORANGE},
    {type:'text',segs:[{t:'RV'},{t:'cc \u2212 g',sub:true,it:true}],x:-33.1,y:0.9415,size:12,color:ORANGE,align:'left'},
    {type:'text',segs:[{t:'v',it:true},{t:'rad',sub:true,it:true},{t:' (km/s)'}],px:201,py:242,size:10},
    {type:'text',segs:[{t:'Normalized CCF'}],px:21.7,py:112.5,size:10,rot:-Math.PI/2}
  ]}}}},true);

// Panel 3 inset
mk({l:102,t:339,w:80,h:111},{l:104.3,t:341,r:180,b:447.7},{type:'line',data:{datasets:[
  line([{x:0.524,y:0},{x:0.524,y:1}],'#222',1.1,{borderDash:[1.5,2],order:3}),
  line(zip(IN_BLACK_X,IN_BLACK_Y),'#000',1.5,{tension:0.4,order:2}),
  line([{x:0,y:0.665},{x:1,y:0.665}],RED,1.4,{order:2}),
  line([{x:0.507,y:0.10},{x:0.507,y:0.19}],ORANGE,1.5,{order:0}),
  line([{x:0.507,y:0.144}],ORANGE,1,{pointRadius:4,pointStyle:'rectRot',pointBackgroundColor:ORANGE,pointBorderColor:ORANGE,order:0})
]},options:{scales:{x:{type:'linear',min:0,max:1,display:false},y:{type:'linear',min:0,max:1,display:false}},
  plugins:{frame:{color:'#111',width:1.3}}}},false);

// ---------------- PANEL 4 ----------------
const EV_COLORS=['#1f77b4','#ff7f0e','#2ca02c','#d62728','#9467bd','#8c564b'];
const EV_SERIES=[[EV_BLUE_X,EV_BLUE_Y],[EV_ORANGE_X,EV_ORANGE_Y],[EV_GREEN_X,EV_GREEN_Y],[EV_RED_X,EV_RED_Y],[EV_PURPLE_X,EV_PURPLE_Y],[EV_BROWN_X,EV_BROWN_Y]];
const p4ds=[];
EV_OFFSETS.forEach(o=>p4ds.push(line([{x:EV_BLUE_X[0],y:o},{x:EV_BLUE_X[EV_BLUE_X.length-1],y:o}],'rgba(128,128,128,0.9)',2,{order:10})));
EV_SERIES.forEach((s,i)=>p4ds.push(line(zip(s[0],s[1]),EV_COLORS[i],1.7,{tension:i<4?0.25:0.05,order:i})));
mk({l:360,t:230,w:430,h:420},{l:431.7,t:256,r:782,b:597},{type:'line',data:{datasets:p4ds},options:{scales:{
  x:axis(-21.6,21.9,P4_XTICKS,v=>mns(v),12.5,{grid:{drawOnChartArea:false,drawTicks:true,tickLength:4.5,tickColor:'#333'}}),
  y:axis(-2,2,P4_YTICKS,fix(1),12.5,{grid:{drawOnChartArea:false,drawTicks:true,tickLength:4.5,tickColor:'#333'}})},
  plugins:{frame:{color:'#333',width:1},annot:{items:[
    {type:'text',segs:[{t:'Scaled eigenvectors: heliocentric CCF'}],px:247,py:13,size:15},
    {type:'text',segs:[{t:'Heliocentric velocity in km s'},{t:'\u22121',sup:true}],px:247,py:400,size:12.5},
    {type:'text',segs:[{t:'Dimensionless eigenvector (loading), '},{t:'P',it:true},{t:'C',sub:true,it:true},{t:'('},{t:'v',it:true},{t:')'}],px:18,py:196.5,size:12.5,rot:-Math.PI/2}
  ]}}}},true);

// ---------------- BOTTOM: residuals ----------------
function bwr(v){const t=Math.max(0,Math.min(1,(v-CBAR_RANGE[0])/(CBAR_RANGE[1]-CBAR_RANGE[0])));
  let r,g,b;if(t<0.5){r=g=Math.round(510*t);b=255;}else{r=255;g=b=Math.round(255*(2-2*t));}
  return 'rgba('+r+','+g+','+b+',0.8)';}
// draw order: high activity at the back, low activity in front
const resOrder=RESIDUALS.map((a,i)=>i).sort((a,b)=>ACTIVITY[a]-ACTIVITY[b]);
const resDs=RESIDUALS.map((arr,i)=>line(RV_GRID.slice(0,arr.length).map((x,j)=>({x,y:arr[j]*RES_UNIT})),bwr(ACTIVITY[i]),1.2,{order:resOrder.indexOf(i)}));
mk({l:0,t:650,w:750,h:385},{l:120.7,t:676.7,r:748.3,b:985.7},{type:'line',data:{datasets:resDs},options:{scales:{
  x:axis(-20.6,20.0,RES_XTICKS,v=>mns(v),15,{grid:{drawOnChartArea:false,drawTicks:true,tickLength:5,tickColor:'#333'}}),
  y:axis(-0.000745,0.00278,RES_YTICKS,fix(4),15,{grid:{drawOnChartArea:false,drawTicks:true,tickLength:5,tickColor:'#333'}})},
  plugins:{frame:{color:'#444',width:1},annot:{items:[
    {type:'text',segs:[{t:'CCF Residuals from HARPS-N'}],px:434,py:15,size:19},
    {type:'text',segs:[{t:'RV in km/s'}],px:434,py:372,size:22},
    {type:'text',segs:[{t:'Residuals (\u0394CCF)'}],px:22,py:181,size:20.5,rot:-Math.PI/2}
  ]}}}},true);

// Colorbar (bar spans x 748.3..764.3; right-hand axis box 49.7 px wide)
mk({l:740,t:650,w:74,h:385},{l:748.3,t:676.7,r:814,b:985.7},{type:'line',data:{datasets:[{data:[{x:0,y:CBAR_RANGE[0]},{x:1,y:CBAR_RANGE[1]}],borderWidth:0,borderColor:'rgba(0,0,0,0)',pointRadius:0}]},options:{scales:{
  x:{type:'linear',min:0,max:1,display:false},
  y:axis(CBAR_RANGE[0],CBAR_RANGE[1],CBAR_TICKS,v=>mns(v),15,{position:'right',afterFit:s=>{s.width=49.7;},grid:{drawOnChartArea:false,drawTicks:true,tickLength:4,tickColor:'#333'}})},
  plugins:{annot:{items:[
    {type:'text',segs:[{t:'Stellar Activity Signal (m/s)'}],px:65,py:183,size:19.5,rot:Math.PI/2}
  ]}}},plugins:[cbgrad]},false);
</script></body></html>
